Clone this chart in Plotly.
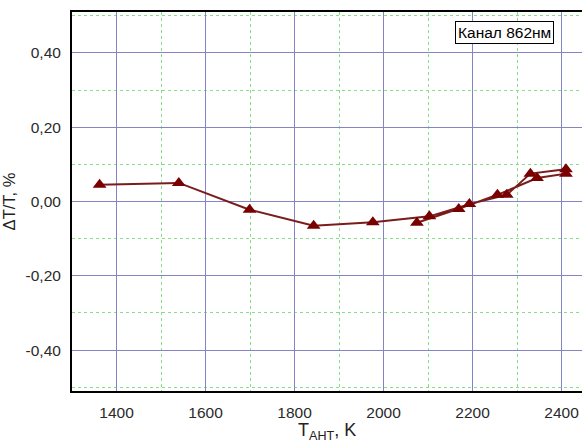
import plotly.graph_objects as go

# Measurement path (temperature in K, relative deviation in %)
t_ant = [1362, 1540, 1699, 1843, 1976, 2103, 2193, 2277, 2330, 2410,
         2410, 2345, 2256, 2169, 2075]
dt_t = [0.045, 0.050, -0.022, -0.065, -0.056, -0.040, -0.007, 0.018, 0.075, 0.087,
        0.075, 0.063, 0.018, -0.020, -0.057]

x_ticks = [1400, 1600, 1800, 2000, 2200, 2400]
y_ticks = [-0.4, -0.2, 0.0, 0.2, 0.4]
y_tick_text = [f"{v:.2f}".replace(".", ",") for v in y_ticks]
channel_label = "Канал 862нм"
x_title = "T<sub>АНТ</sub>, K"

fig = go.Figure()
fig.add_trace(go.Scatter(
    x=t_ant, y=dt_t, mode="lines+markers",
    line=dict(color="#7a1c1c", width=2),
    marker=dict(symbol="triangle-up", size=12, color="#7a0000"),
    showlegend=False, cliponaxis=False,
))

fig.update_layout(
    width=582, height=443,
    margin=dict(l=72, r=0, t=12, b=52),
    plot_bgcolor="white", paper_bgcolor="white",
    font=dict(family="Arial, Liberation Sans, sans-serif", size=15.5, color="#2a2a2a"),
    xaxis=dict(
        range=[1300, 2446], tickvals=x_ticks, ticktext=[str(v) for v in x_ticks],
        showgrid=True, gridcolor="#8484c4", gridwidth=1,
        minor=dict(dtick=100, tick0=1300, showgrid=True, gridcolor="#88dd88",
                   griddash="dot", gridwidth=1),
        showline=True, linecolor="black", linewidth=2, mirror=True,
        zeroline=False, ticks="", ticklabelstandoff=6, automargin=False,
    ),
    yaxis=dict(
        range=[-0.51, 0.51], tickvals=y_ticks, ticktext=y_tick_text,
        showgrid=True, gridcolor="#8484c4", gridwidth=1,
        minor=dict(dtick=0.1, tick0=-0.5, showgrid=True, gridcolor="#88dd88",
                   griddash="dot", gridwidth=1),
        showline=True, linecolor="black", linewidth=2, mirror=False,
        zeroline=False, ticks="", ticklabelstandoff=6, automargin=False,
        title=dict(text="ΔT/T, %", font=dict(size=16.5, color="#222222"), standoff=8),
    ),
    annotations=[
        dict(
            text=channel_label, xref="paper", yref="paper",
            x=0.849, y=0.945, xanchor="center", yanchor="middle", showarrow=False,
            font=dict(size=15.5, color="black"), bgcolor="white",
            bordercolor="black", borderwidth=1, borderpad=2,
        ),
        dict(
            text=x_title, xref="paper", yref="paper",
            x=0.5, y=-0.072, xanchor="center", yanchor="top", showarrow=False,
            font=dict(size=18, color="#222222"),
        ),
    ],
)

fig.write_html("out.html")
